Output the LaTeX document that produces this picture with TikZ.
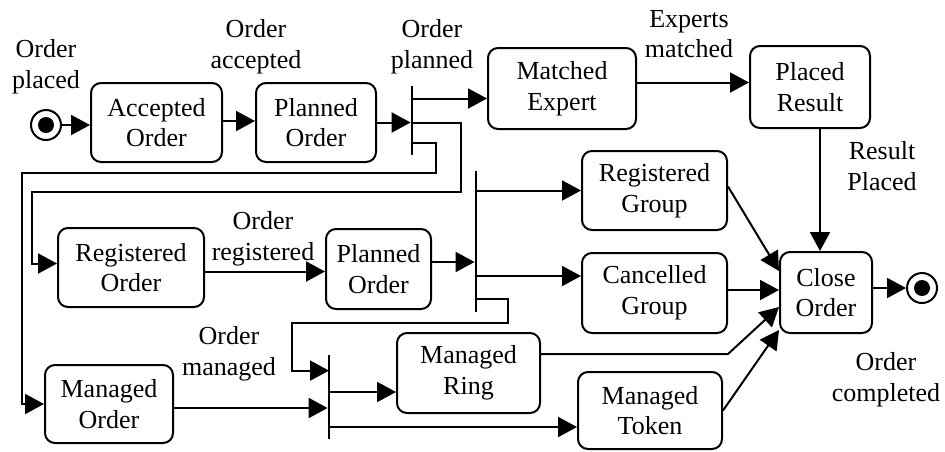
\documentclass[tikz,border=0pt]{standalone}
\usepackage{fontspec}
\setmainfont{Liberation Serif}
\usetikzlibrary{arrows.meta}

\tikzset{
  state/.style={draw, rounded corners=5pt, line width=1pt, align=center, inner sep=0pt, minimum height=39.5pt},
  pseudo/.style={circle, draw, line width=1pt, minimum size=15pt, inner sep=0pt},
  bar/.style={fill, inner sep=0pt, minimum width=1pt},
  flow/.style={line width=1pt, -{Triangle[length=9.5pt,width=10pt]}},
  lbl/.style={align=center, inner sep=0pt},
}

\begin{document}
\begin{tikzpicture}[x=0.5pt, y=-0.5pt, every node/.style={font=\fontsize{13}{15.3}\selectfont}]

\useasboundingbox (0,0) rectangle (945,451);

%%%%%
%% states
%%%%%
\node[pseudo] (start) at (46,125) {};
\fill (start) circle (4pt);
\node[state, minimum width=65.5pt] (aOrd) at (156.5,122.5) {Accepted\\Order};
\node[state, minimum width=60pt] (pOrdA) at (316,122.5) {Planned\\Order};
\node[state, minimum width=74pt, minimum height=40.5pt] (mExp) at (562,88.5) {Matched\\Expert};
\node[state, minimum width=60pt, minimum height=41pt] (pRes) at (810,87) {Placed\\Result};
\node[state, minimum width=73pt] (rOrd) at (131,267.5) {Registered\\Order};
\node[state, minimum width=52.5pt, minimum height=40pt] (pOrdB) at (378.5,269) {Planned\\Order};
\node[state, minimum width=72.5pt] (rGrp) at (654.5,190.5) {Registered\\Group};
\node[state, minimum width=72.5pt, minimum height=40pt] (cGrp) at (654.5,293) {Cancelled\\Group};
\node[state, minimum width=46pt, minimum height=40.5pt] (cOrd) at (826,292.5) {Close\\Order};
\node[state, minimum width=64pt, minimum height=39pt] (mOrd) at (109,404) {Managed\\Order};
\node[state, minimum width=71.5pt, minimum height=40pt] (mRing) at (468.5,373) {Managed\\Ring};
\node[state, minimum width=72pt, minimum height=38.5pt] (mTok) at (650,410.5) {Managed\\Token};
\node[pseudo] (stop) at (922,288) {};
\fill (stop) circle (4pt);

%%%%%
%% forks
%%%%%
\node[bar, minimum height=34.5pt] (forkA) at (412,120.5) {};
\node[bar, minimum height=70.5pt] (forkB) at (476,241.5) {};
\node[bar, minimum height=42pt] (forkC) at (329,397) {};

%%%%%
%% events
%%%%%
\node[lbl] (lPlaced) at (46,67) {Order\\placed};
\node[lbl] (lAccepted) at (256,46.5) {Order\\accepted};
\node[lbl] (lPlanned) at (432,46.5) {Order\\planned};
\node[lbl] (lMatched) at (689,34) {Experts\\matched};
\node[lbl] (lResult) at (882,166) {Result\\Placed};
\node[lbl] (lRegistered) at (263,239) {Order\\registered};
\node[lbl] (lManaged) at (229,354) {Order\\managed};
\node[lbl] (lCompleted) at (886,380) {Order\\completed};

%%%%%
%% transitions
%%%%%
\coordinate (mExpIn) at ([yshift=-5pt]mExp.west);
\coordinate (rOrdIn) at ([yshift=2pt]rOrd.west);
\coordinate (forkAo) at ([yshift=6pt]forkA.south);
\coordinate (forkBo) at ([yshift=6.5pt]forkB.south);
\coordinate (forkCin) at ([yshift=-8pt]forkC.north);
\coordinate (cGrpIn) at ([yshift=8.5pt]cGrp.west);
\coordinate (mOrdOut) at ([yshift=-2pt]mOrd.east);
\coordinate (mRingIn) at ([yshift=-9.5pt]mRing.west);
\coordinate (mTokIn) at ([yshift=-8.25pt]mTok.west);
\coordinate (mRingOut) at ([yshift=9.5pt]mRing.east);

\draw[flow] (start.east) -- (start.east -| aOrd.west);
\draw[flow] ([yshift=0.75pt]aOrd.east) -- ([yshift=0.75pt]pOrdA.west);
\draw[flow] (pOrdA.east) -- (pOrdA.east -| forkA.west);
\draw[flow] (mExpIn -| forkA.east) -- (mExpIn);
\draw[flow] (pOrdA.east -| forkA.east) -| ++(48,69) -| ([xshift=-12.5pt]rOrdIn) -- (rOrdIn);
\draw[flow] (forkAo) -| ++(24,30) -| ([xshift=-11pt]mOrd.west) -- (mOrd.west);

\draw[flow] ([yshift=-2pt]rOrd.east) -- ([yshift=-2pt]rOrd.east -| pOrdB.west);
\draw[flow] ([yshift=3.5pt]pOrdB.east) -- ([yshift=3.5pt]pOrdB.east -| forkB.west);
\draw[flow] (rGrp.west -| forkB.east) -- (rGrp.west);
\draw[flow] (cGrpIn -| forkB.east) -- (cGrpIn);
\draw[flow] (forkBo) -| ++(32,24) -| ([xshift=-18.5pt]forkCin) -- (forkCin);

\draw[flow] (mOrdOut) -- (mOrdOut -| forkC.west);
\draw[flow] (mRingIn -| forkC.east) -- (mRingIn);
\draw[flow] (mTokIn -| forkC.east) -- (mTokIn);

\draw[flow] ([yshift=3pt]mExp.east) -- ([yshift=3pt]mExp.east -| pRes.west);
\draw[flow] ([xshift=5pt]pRes.south) -- ([xshift=5pt]pRes.south |- cOrd.north);
\draw[flow] ([yshift=2pt]rGrp.east) -- ([yshift=10.75pt]cOrd.west);
\draw[flow] ([yshift=1.5pt]cGrp.east) -- ([yshift=1.5pt]cGrp.east -| cOrd.west);
\draw[flow] (mRingOut) -- (mRingOut -| cGrp.east) -- ([yshift=-7.25pt]cOrd.west);
\draw[flow] (mTok.east) -- ([yshift=-18.75pt]cOrd.west);
\draw[flow] (cOrd.east |- stop.west) -- (stop.west);

\end{tikzpicture}
\end{document}
